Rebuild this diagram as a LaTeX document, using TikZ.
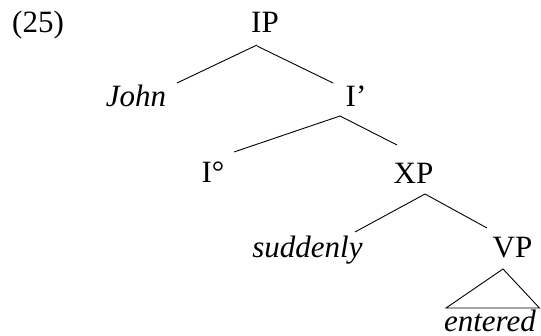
\documentclass[tikz,border=0pt]{standalone}
\usepackage{fontspec}
\setmainfont{Liberation Serif}
\begin{document}
\begin{tikzpicture}[x=1pt,y=-1pt,
  lbl/.style={inner sep=0pt,anchor=base,font=\fontsize{31}{36}\selectfont},
  branch/.style={draw=black,line width=0.9pt}]
\useasboundingbox (0,0) rectangle (541,336);
\node[lbl,anchor=base west] (num) at (12,33) {(25)};
\node[lbl] (IP) at (265,33) {IP};
\node[lbl] (John) at (136,107) {\itshape John};
\node[lbl] (Ibar) at (356,107) {I’};
\node[lbl] (I0) at (213,183) {I°};
\node[lbl] (XP) at (413.5,184) {XP};
\node[lbl] (sud) at (307.5,258) {\itshape suddenly};
\node[lbl] (VP) at (512.5,258) {VP};
\node[lbl] (ent) at (490,331.5) {\itshape entered};
\draw[branch] ([shift={(-8,12)}]IP.base) -- ([shift={(41,-24)}]John.base);
\draw[branch] ([shift={(-8,13)}]IP.base) -- ([shift={(-23,-24)}]Ibar.base);
\draw[branch] ([shift={(-16,9)}]Ibar.base) -- ([shift={(21,-31)}]I0.base);
\draw[branch] ([shift={(-16,9)}]Ibar.base) -- ([shift={(-16.5,-39)}]XP.base);
\draw[branch] ([shift={(11.5,10)}]XP.base) -- ([shift={(47.5,-26)}]sud.base);
\draw[branch] ([shift={(11.5,10)}]XP.base) -- ([shift={(-25.5,-30)}]VP.base);
\draw[branch,line join=miter] ([shift={(-9.5,11)}]VP.base) -- ([shift={(-44,-23.5)}]ent.base) -- ([shift={(49.5,-23.5)}]ent.base) -- cycle;
\end{tikzpicture}
\end{document}
